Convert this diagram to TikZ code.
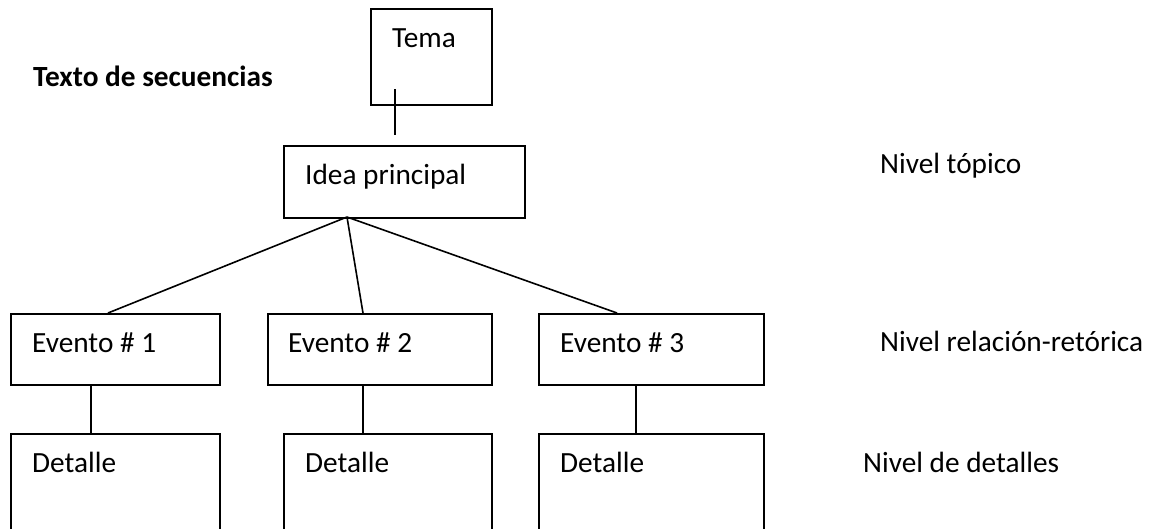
\documentclass[tikz,border=0pt]{standalone}
\usepackage{fontspec}
\setmainfont{Carlito}
\begin{document}
\begin{tikzpicture}[x=1pt,y=-1pt,
  box/.style={draw,line width=1.8pt,inner sep=0pt,anchor=north west},
  lbl/.style={anchor=base west,inner sep=0pt,font=\fontsize{29.3}{35}\selectfont},
  conn/.style={line width=1.6pt}]
\clip (0,0) rectangle (1157,528);
\fill[white] (0,0) rectangle (1157,528);
% boxes
\node[box,minimum width=121pt,minimum height=96pt] (tema) at (370,8) {};
\node[box,minimum width=241pt,minimum height=72pt] (idea) at (283,145) {};
\node[box,minimum width=209pt,minimum height=71pt] (ev1) at (10,313) {};
\node[box,minimum width=224pt,minimum height=71pt] (ev2) at (267,313) {};
\node[box,minimum width=225pt,minimum height=71pt] (ev3) at (538,313) {};
\node[box,minimum width=209pt,minimum height=110pt] (det1) at (10,433) {};
\node[box,minimum width=208pt,minimum height=110pt] (det2) at (283,433) {};
\node[box,minimum width=225pt,minimum height=110pt] (det3) at (538,433) {};
% texts
\node[lbl] (ttema) at (392,47) {Tema};
\node[lbl] (tidea) at (305,184) {Idea principal};
\node[lbl] (tev1) at (32,352) {Evento \# 1};
\node[lbl] (tev2) at (288,352) {Evento \# 2};
\node[lbl] (tev3) at (560,352) {Evento \# 3};
\node[lbl] (tdet1) at (32,472) {Detalle};
\node[lbl] (tdet2) at (305,472) {Detalle};
\node[lbl] (tdet3) at (560,472) {Detalle};
\node[lbl,font=\fontsize{29.3}{35}\selectfont\bfseries] (title) at (33,86) {Texto de secuencias};
\node[lbl] (n1) at (880,173) {Nivel tópico};
\node[lbl] (n2) at (880,351) {Nivel relación-retórica};
\node[lbl] (n3) at (863,472) {Nivel de detalles};
% connector points
\coordinate (t1) at (395,89);
\coordinate (t2) at (395,135);
\coordinate (f) at (347,217);
\coordinate (e1) at (108,313);
\coordinate (e2) at (363,313);
\coordinate (e3) at (617,313);
\coordinate (v1a) at (91,384);
\coordinate (v1b) at (91,433);
\coordinate (v2a) at (363,384);
\coordinate (v2b) at (363,433);
\coordinate (v3a) at (636,384);
\coordinate (v3b) at (636,433);
% connectors
\draw[conn] (t1) -- (t2);
\draw[conn] (f) -- (e1);
\draw[conn] (f) -- (e2);
\draw[conn] (f) -- (e3);
\draw[conn] (v1a) -- (v1b);
\draw[conn] (v2a) -- (v2b);
\draw[conn] (v3a) -- (v3b);
\end{tikzpicture}
\end{document}
